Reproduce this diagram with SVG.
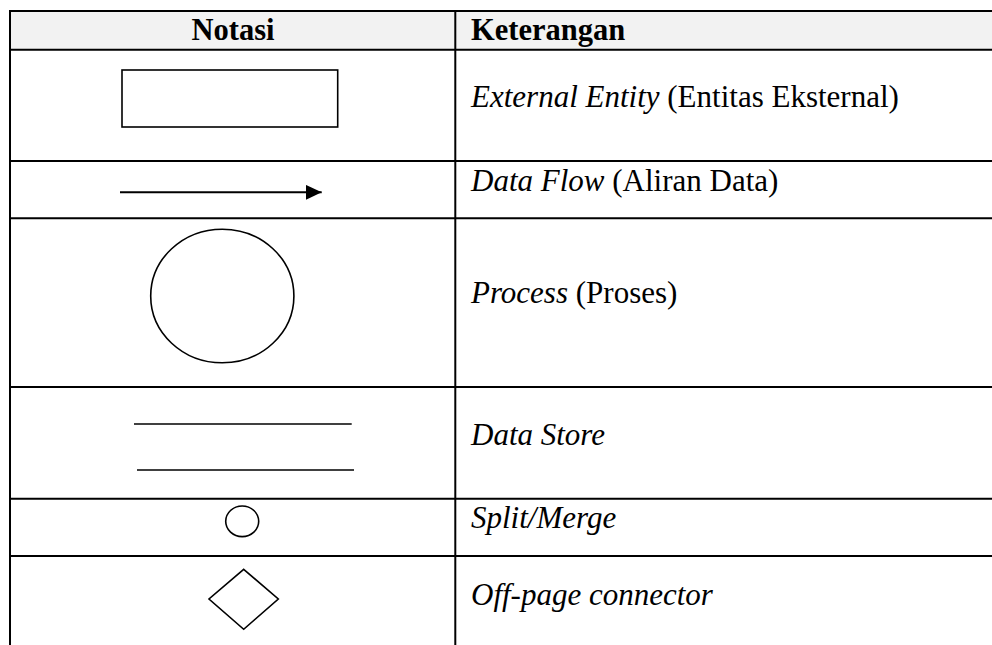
<svg xmlns="http://www.w3.org/2000/svg" width="992" height="645" viewBox="0 0 992 645">
  <style>
    .grid { stroke: #000; stroke-width: 2; fill: none; }
    .shape { stroke: #000; stroke-width: 1.6; fill: none; }
    .head { font-size: 30.5px; font-weight: bold; fill: #000; }
    .desc { font-size: 31px; fill: #000; }
    .it { font-style: italic; }
  </style>
  <defs>
    <marker id="arrowhead" markerWidth="16" markerHeight="15" refX="16" refY="7.5" orient="auto" markerUnits="userSpaceOnUse">
      <polygon points="0,0 16,7.5 0,15" fill="#000"/>
    </marker>
  </defs>

  <rect width="992" height="645" fill="#fff"/>

  <!-- table grid -->
  <g id="table-grid">
    <rect x="10" y="11" width="982" height="38.7" fill="#f2f2f2"/>
    <line class="grid" x1="9" y1="11" x2="992" y2="11"/>
    <line class="grid" x1="9" y1="49.7" x2="992" y2="49.7"/>
    <line class="grid" x1="9" y1="161" x2="992" y2="161"/>
    <line class="grid" x1="9" y1="218.3" x2="992" y2="218.3"/>
    <line class="grid" x1="9" y1="387" x2="992" y2="387"/>
    <line class="grid" x1="9" y1="498.7" x2="992" y2="498.7"/>
    <line class="grid" x1="9" y1="556" x2="992" y2="556"/>
    <line class="grid" x1="10" y1="10" x2="10" y2="645"/>
    <line class="grid" x1="455.3" y1="10" x2="455.3" y2="645"/>
  </g>

  <g font-family="Liberation Serif, serif">
    <!-- header row -->
    <g id="header">
      <text class="head" x="233" y="39.5" text-anchor="middle">Notasi</text>
      <text class="head" x="471" y="39.5">Keterangan</text>
    </g>

    <!-- external entity -->
    <g id="external-entity">
      <rect class="shape" x="122" y="70" width="215.7" height="57" stroke-width="1.8"/>
      <text class="desc" x="471" y="107"><tspan class="it">External Entity</tspan> (Entitas Eksternal)</text>
    </g>

    <!-- data flow -->
    <g id="data-flow">
      <g id="connectors">
        <line x1="120" y1="192.3" x2="321.7" y2="192.3" stroke="#000" stroke-width="2" marker-end="url(#arrowhead)"/>
      </g>
      <text class="desc" x="471" y="191"><tspan class="it">Data Flow</tspan> (Aliran Data)</text>
    </g>

    <!-- process -->
    <g id="process">
      <ellipse class="shape" cx="222.3" cy="296" rx="71.6" ry="66.8"/>
      <text class="desc" x="471" y="303"><tspan class="it">Process</tspan> (Proses)</text>
    </g>

    <!-- data store -->
    <g id="data-store">
      <line class="shape" x1="134" y1="424" x2="351.7" y2="424"/>
      <line class="shape" x1="137" y1="470" x2="354" y2="470"/>
      <text class="desc it" x="471" y="445">Data Store</text>
    </g>

    <!-- split / merge -->
    <g id="split-merge">
      <ellipse class="shape" cx="242.2" cy="521.3" rx="16.5" ry="15.3"/>
      <text class="desc it" x="471" y="528">Split/Merge</text>
    </g>

    <!-- off-page connector -->
    <g id="off-page-connector">
      <polygon class="shape" points="243.7,569.3 278.3,599 243.7,629.3 209,599"/>
      <text class="desc it" x="471" y="605">Off-page connector</text>
    </g>
  </g>
</svg>
